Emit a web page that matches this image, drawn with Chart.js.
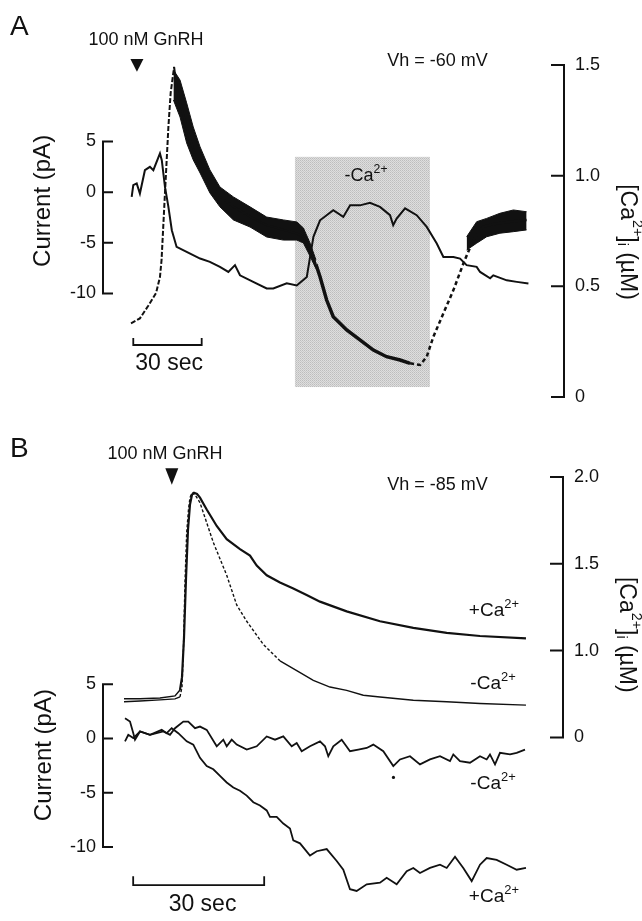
<!DOCTYPE html>
<html><head><meta charset="utf-8">
<script src="https://cdn.jsdelivr.net/npm/chart.js@4.4.1/dist/chart.umd.min.js"></script>
<style>
html,body{margin:0;padding:0;background:#fff;}
#wrap{position:relative;width:642px;height:921px;overflow:hidden;}
canvas{position:absolute;left:0;}
</style></head><body>
<div id="wrap">
<canvas id="cA" width="642" height="430" style="top:0;width:642px;height:430px"></canvas>
<canvas id="cB" width="642" height="491" style="top:430px;width:642px;height:491px"></canvas>
</div>
<script>
// ---------------- DATA (time in s, current in pA, [Ca2+]i in µM) ----------------
// Panel A
const timeA_I = [0.3,1.0,2.5,3.9,6.1,8.3,9.8,12.7,13.5,14.9,16.4,17.9,20.0,24.4,30.3,34.6,39.0,42.7,45.6,47.8,53.6,59.5,62.4,68.3,72.7,77.1,80.0,82.9,88.7,93.1,96.1,100.4,104.8,109.2,113.6,115.0,116.5,120.2,125.3,129.7,134.1,137.0,141.4,144.3,147.2,151.6,153.1,157.5,158.9,164.8,169.2,174.3];
const currentA = [-0.46,0.69,0.86,-0.13,2.17,2.5,2.17,3.82,3.16,0.53,-1.45,-3.75,-5.4,-5.9,-6.55,-6.88,-7.37,-7.87,-7.2,-8.2,-8.85,-9.5,-9.5,-9.0,-9.2,-8.36,-4.4,-2.77,-1.78,-2.44,-1.28,-1.3,-1.05,-1.45,-2.27,-3.26,-2.6,-1.6,-2.27,-3.43,-5.07,-6.4,-6.4,-6.55,-7.2,-7.37,-7.87,-8.5,-8.2,-8.7,-8.85,-9.0];
const timeA_Ca = [0.0,3.9,7.5,11.0,12.7,13.4,14.9,16.4,17.4,18.9,20.0,21.5,24.4,27.3,30.3,34.6,39.0,44.9,52.2,59.5,66.8,72.7,75.6,78.5,81.1,82.9,85.8,88.7,94.6,100.4,106.3,112.1,118.0,122.4,126.8,129.7,132.6,137.0,141.4,145.8,150.1,154.5,160.4,166.2,173.5];
const caA = [0.333,0.355,0.411,0.470,0.542,0.619,0.922,1.220,1.374,1.491,1.40,1.33,1.22,1.12,1.06,0.965,0.905,0.86,0.815,0.777,0.755,0.739,0.724,0.664,0.60,0.543,0.438,0.363,0.303,0.258,0.212,0.182,0.167,0.152,0.145,0.182,0.272,0.378,0.483,0.604,0.709,0.77,0.784,0.792,0.80];
// noise envelope of the Ca trace (upper / lower edge of the band)
const bandA1_t  = [18.6,21.5,24.4,27.3,30.3,34.6,39.0,44.9,52.2,59.5,66.8,72.7,75.6,78.5,81.1];
const bandA1_hi = [1.478,1.432,1.329,1.220,1.130,1.026,0.949,0.904,0.859,0.813,0.800,0.791,0.764,0.696,0.62];
const bandA1_lo = [1.342,1.265,1.148,1.071,1.012,0.922,0.859,0.800,0.768,0.723,0.709,0.709,0.696,0.637,0.58];
const bandA2_t  = [147.2,151.6,156.0,161.8,167.7,173.5];
const bandA2_hi = [0.724,0.792,0.807,0.830,0.845,0.837];
const bandA2_lo = [0.664,0.695,0.724,0.740,0.747,0.755];
const ticksA_I = [-10,-5,0,5];
const ticksA_Ca = [0,0.5,1,1.5];
const labelsA_I = ['-10','-5','0','5'];
const labelsA_Ca = ['0','0.5','1.0','1.5'];

// Panel B
const timeB_CaPlus = [0,3.66,8.24,11.68,12.82,13.28,13.74,14.20,14.66,15.11,15.57,16.03,16.72,17.40,18.94,21.23,23.52,26.56,28.85,30.39,32.68,35.72,38.77,41.82,44.88,50.99,58.62,66.25,73.90,81.52,92.05];
const caB_plus = [0.722,0.722,0.727,0.739,0.773,0.847,1.074,1.415,1.699,1.841,1.898,1.909,1.903,1.881,1.813,1.718,1.642,1.585,1.547,1.490,1.434,1.392,1.358,1.320,1.282,1.226,1.169,1.131,1.102,1.084,1.070];
const timeB_CaMinus = [0,3.66,8.24,11.68,12.82,13.28,13.62,13.97,14.36,14.77,15.11,15.57,16.26,17.40,20.45,23.52,25.81,28.10,31.90,35.72,39.55,43.35,47.17,50.99,54.80,58.62,66.25,73.90,81.52,92.05];
const caB_minus = [0.705,0.710,0.716,0.722,0.733,0.790,1.017,1.398,1.682,1.813,1.881,1.909,1.898,1.852,1.623,1.434,1.263,1.169,1.036,0.941,0.885,0.828,0.790,0.771,0.743,0.733,0.714,0.705,0.695,0.686];
const timeB_IMinus = [0.23,0.98,2.13,3.66,5.95,9.0,10.53,11.68,13.58,14.72,16.26,17.40,18.94,21.23,22.74,23.52,24.66,25.81,28.10,30.39,32.68,34.58,36.48,38.40,39.55,40.69,42.59,44.88,46.03,46.78,47.93,49.85,51.75,53.65,55.58,57.09,59.38,61.67,63.20,65.49,67.78,70.07,72.36,74.65,75.41,76.94,79.23,81.52,83.05,83.81,84.96,86.10,88.39,89.92,91.83];
const IB_minus = [-0.27,0.33,0.03,0.64,0.33,0.64,0.33,0.94,1.55,1.55,0.94,1.09,0.79,-0.73,-0.12,-0.73,-0.12,-0.57,-1.03,-0.73,0.18,-0.12,0.18,-0.73,-0.42,-1.18,-0.73,-0.27,-0.73,-1.64,-0.73,-0.12,-1.18,-1.03,-0.88,-0.57,-1.18,-2.55,-1.94,-1.64,-2.39,-1.94,-1.64,-2.09,-1.48,-2.09,-2.24,-1.64,-1.94,-1.48,-2.39,-1.33,-1.48,-1.33,-1.03];
const timeB_IPlus = [0.23,1.37,2.13,2.52,3.66,5.95,8.63,9.78,10.92,12.43,14.36,15.87,17.40,18.94,20.45,21.98,23.52,25.03,26.56,28.10,29.61,31.14,32.68,33.43,34.97,36.48,38.01,38.77,40.30,42.59,44.13,46.42,48.71,50.22,51.75,53.28,55.58,58.62,60.15,62.44,64.74,66.25,67.78,70.07,72.36,73.90,75.80,77.70,79.62,81.52,83.05,85.34,87.63,89.92,92.05];
const IB_plus = [1.85,1.55,0.48,-0.12,0.64,0.33,0.79,0.48,0.94,0.48,-0.27,-0.57,-1.79,-2.55,-2.85,-3.45,-4.06,-4.52,-4.82,-5.27,-5.88,-6.18,-6.64,-7.24,-7.24,-7.85,-8.3,-9.4,-9.67,-10.8,-10.4,-10.2,-11.3,-12.1,-13.9,-14.06,-13.45,-13.3,-12.85,-13.45,-12.24,-11.94,-12.4,-11.94,-11.64,-11.94,-10.9,-11.94,-13.15,-11.64,-11.03,-11.2,-11.64,-12.1,-11.94];
const strayB_t = [61.7];
const strayB_I = [-3.6];
const ticksB_I = [-10,-5,0,5];
const ticksB_Ca = [0.5,1,1.5,2];
const labelsB_I = ['-10','-5','0','5'];
const labelsB_Ca = ['0','1.0','1.5','2.0'];

// ---------------- RENDERING ----------------
const FONT = '"Liberation Sans", Arial, Helvetica, sans-serif';
const INK = '#111111';
const pts = (xs, ys) => xs.map((x, i) => ({x, y: ys[i]}));
const CA_SUP = [['-Ca',1,0],['2+',0.68,-0.42]];
const CA_SUP_P = [['+Ca',1,0],['2+',0.68,-0.42]];
const CA_TITLE = [['[Ca',1,0],['2+',0.62,-0.42],[']',1,0],['i',0.62,0.22],[' (µM)',1,0]];

function stipple(ctx){
  const c = document.createElement('canvas'); c.width = 2; c.height = 2;
  const g = c.getContext('2d');
  g.fillStyle = '#bdbdbd'; g.fillRect(0,0,1,1);
  g.fillStyle = '#dedede'; g.fillRect(1,0,1,1); g.fillRect(0,1,1,1);
  g.fillStyle = '#c9c9c9'; g.fillRect(1,1,1,1);
  return ctx.createPattern(c, 'repeat');
}
function richWidth(ctx, parts, size){
  let w = 0;
  for (const p of parts){ ctx.font = (size*p[1]) + 'px ' + FONT; w += ctx.measureText(p[0]).width; }
  return w;
}
function drawRich(ctx, parts, x, y, size, align){
  const w = richWidth(ctx, parts, size);
  let cx = align === 'center' ? x - w/2 : (align === 'right' ? x - w : x);
  ctx.textAlign = 'left';
  for (const p of parts){
    ctx.font = (size*p[1]) + 'px ' + FONT;
    ctx.fillText(p[0], cx, y + p[2]*size);
    cx += ctx.measureText(p[0]).width;
  }
}

function makeFig(cfg){
  return {
    id: 'fig' + cfg.name,
    beforeDatasetsDraw(chart){
      const ctx = chart.ctx, X = chart.scales.x;
      (cfg.boxes || []).forEach(b => {
        const Y = chart.scales[b.axis];
        const x0 = X.getPixelForValue(b.t0), x1 = X.getPixelForValue(b.t1);
        const y0 = Y.getPixelForValue(b.v1), y1 = Y.getPixelForValue(b.v0);
        ctx.save(); ctx.fillStyle = stipple(ctx); ctx.fillRect(x0, y0, x1-x0, y1-y0); ctx.restore();
      });
    },
    afterDraw(chart){
      const ctx = chart.ctx, X = chart.scales.x, A = chart.chartArea;
      ctx.save();
      ctx.strokeStyle = INK; ctx.fillStyle = INK; ctx.lineCap = 'square';
      // axes
      cfg.axes.forEach(ax => {
        const Y = chart.scales[ax.axis];
        const x = ax.side === 'left' ? A.left : A.right;
        ctx.lineWidth = 2;
        ctx.beginPath();
        ctx.moveTo(x, Y.getPixelForValue(ax.from)); ctx.lineTo(x, Y.getPixelForValue(ax.to));
        ax.ticks.forEach(v => { const y = Y.getPixelForValue(v); ctx.moveTo(x, y); ctx.lineTo(x + ax.dir*ax.len, y); });
        ctx.stroke();
      });
      // scale bar
      const sb = cfg.scaleBar, YS = chart.scales[sb.axis];
      const xa = X.getPixelForValue(sb.t0), xb = X.getPixelForValue(sb.t1);
      const yb = YS.getPixelForValue(sb.v), yt = YS.getPixelForValue(sb.vTick);
      ctx.lineWidth = 1.8; ctx.lineCap = 'butt';
      ctx.beginPath(); ctx.moveTo(xa, yt); ctx.lineTo(xa, yb); ctx.lineTo(xb, yb); ctx.lineTo(xb, yt); ctx.stroke();
      // arrow triangles
      (cfg.arrows || []).forEach(a => {
        const Y = chart.scales[a.axis];
        const x = X.getPixelForValue(a.t), y0 = Y.getPixelForValue(a.vTop), y1 = Y.getPixelForValue(a.vTip);
        ctx.beginPath(); ctx.moveTo(x - a.halfW, y0); ctx.lineTo(x + a.halfW, y0); ctx.lineTo(x, y1); ctx.closePath(); ctx.fill();
      });
      // texts
      cfg.texts.forEach(tx => {
        const Y = chart.scales[tx.axis];
        const x = X.getPixelForValue(tx.t), y = Y.getPixelForValue(tx.v);
        const parts = tx.parts || [[tx.text,1,0]];
        if (tx.rot){
          ctx.save(); ctx.translate(x, y); ctx.rotate(tx.rot*Math.PI/180);
          ctx.textBaseline = 'middle';
          drawRich(ctx, parts, 0, 0, tx.size, 'center');
          ctx.restore();
        } else {
          ctx.textBaseline = 'alphabetic';
          drawRich(ctx, parts, x, y, tx.size, tx.align || 'center');
        }
      });
      ctx.restore();
    }
  };
}

function yScale(pos, min, max, ticks, labels, width, pad){
  return {
    position: pos, min, max,
    afterBuildTicks: s => { s.ticks = ticks.map(v => ({value: v})); },
    afterFit: s => { s.width = width; },
    ticks: { callback: (v) => labels[ticks.indexOf(v)], color: INK, padding: pad, font: {family: FONT, size: 18}, autoSkip: false },
    grid: { display: false, drawTicks: false },
    border: { display: false }
  };
}
const baseOpts = (padTop, padBottom) => ({
  responsive: false, animation: false, devicePixelRatio: 1,
  layout: { padding: { top: padTop, bottom: padBottom, left: 0, right: 0 } },
  plugins: { legend: { display: false }, tooltip: { enabled: false } },
  elements: { point: { radius: 0 }, line: { tension: 0 } }
});

// ---------- Panel A ----------
const optsA = baseOpts(65, 33);
optsA.scales = {
  x: { type: 'linear', min: -12.28, max: 189.9, display: false },
  yI: yScale('left', -20.21, 12.55, ticksA_I, labelsA_I, 103, 7),
  yCa: yScale('right', 0, 1.5, ticksA_Ca, labelsA_Ca, 78, 11)
};
new Chart(document.getElementById('cA'), {
  type: 'line',
  data: { datasets: [
    { label: 'Current', data: pts(timeA_I, currentA), yAxisID: 'yI', borderColor: INK, borderWidth: 2, fill: false },
    { label: 'Ca', data: pts(timeA_Ca, caA), yAxisID: 'yCa', borderColor: INK, borderWidth: 2, fill: false,
      segment: {
        borderWidth: c => { const t = c.p0.parsed.x; return t < 80 ? 2 : (t < 121 ? 3.5 : 2.5); },
        borderDash: c => { const t = c.p0.parsed.x; return t < 18.9 ? [5,2] : ((t >= 121 && t < 147) ? [4,3] : []); }
      } },
    { label: 'band1 hi', data: pts(bandA1_t, bandA1_hi), yAxisID: 'yCa', borderColor: INK, borderWidth: 1, backgroundColor: INK, fill: '+1' },
    { label: 'band1 lo', data: pts(bandA1_t, bandA1_lo), yAxisID: 'yCa', borderColor: INK, borderWidth: 1, fill: false },
    { label: 'band2 hi', data: pts(bandA2_t, bandA2_hi), yAxisID: 'yCa', borderColor: INK, borderWidth: 1, backgroundColor: INK, fill: '+1' },
    { label: 'band2 lo', data: pts(bandA2_t, bandA2_lo), yAxisID: 'yCa', borderColor: INK, borderWidth: 1, fill: false }
  ]},
  options: optsA,
  plugins: [makeFig({
    name: 'A',
    boxes: [{ axis: 'yCa', t0: 71.9, t1: 131.1, v0: 0.045, v1: 1.085 }],
    axes: [
      { axis: 'yI', side: 'left', from: -10, to: 5, ticks: ticksA_I, dir: 1, len: 9 },
      { axis: 'yCa', side: 'right', from: 0, to: 1.5, ticks: ticksA_Ca, dir: -1, len: 12 }
    ],
    scaleBar: { axis: 'yCa', t0: 1, t1: 31, v: 0.235, vTick: 0.267 },
    arrows: [{ axis: 'yCa', t: 2.6, vTop: 1.527, vTip: 1.469, halfW: 6.5 }],
    texts: [
      { text: 'A', axis: 'yCa', t: -53.1, v: 1.636, size: 28, align: 'left' },
      { text: '100 nM GnRH', axis: 'yCa', t: 6.6, v: 1.591, size: 18 },
      { text: 'Vh = -60 mV', axis: 'yCa', t: 134.4, v: 1.496, size: 18 },
      { parts: CA_SUP, axis: 'yCa', t: 103.1, v: 0.978, size: 18 },
      { text: '30 sec', axis: 'yCa', t: 16.7, v: 0.122, size: 23 },
      { text: 'Current (pA)', axis: 'yCa', t: -38.6, v: 0.886, size: 24, rot: -90 },
      { parts: CA_TITLE, axis: 'yCa', t: 217.5, v: 0.70, size: 23, rot: 90 }
    ]
  })]
});

// ---------- Panel B ----------
const optsB = baseOpts(47, 16);
optsB.scales = {
  x: { type: 'linear', min: -4.81, max: 100.53, display: false },
  yI: yScale('left', -14.82, 24.09, ticksB_I, labelsB_I, 103, 7),
  yCa: yScale('right', -0.432, 2.0, ticksB_Ca, labelsB_Ca, 79, 11)
};
new Chart(document.getElementById('cB'), {
  type: 'line',
  data: { datasets: [
    { label: '+Ca2+ [Ca2+]i', data: pts(timeB_CaPlus, caB_plus), yAxisID: 'yCa', borderColor: INK, borderWidth: 2.2, fill: false,
      segment: { borderWidth: c => c.p0.parsed.x < 12.8 ? 1.5 : 2.2 } },
    { label: '-Ca2+ [Ca2+]i', data: pts(timeB_CaMinus, caB_minus), yAxisID: 'yCa', borderColor: INK, borderWidth: 1.4, fill: false,
      segment: { borderDash: c => { const t = c.p0.parsed.x; return (t > 12.8 && t < 33) ? [3,2] : []; } } },
    { label: '-Ca2+ current', data: pts(timeB_IMinus, IB_minus), yAxisID: 'yI', borderColor: INK, borderWidth: 1.8, fill: false },
    { label: '+Ca2+ current', data: pts(timeB_IPlus, IB_plus), yAxisID: 'yI', borderColor: INK, borderWidth: 1.8, fill: false },
    { label: 'artifact', data: pts(strayB_t, strayB_I), yAxisID: 'yI', showLine: false, pointRadius: 1.6, pointBackgroundColor: INK, pointBorderWidth: 0 }
  ]},
  options: optsB,
  plugins: [makeFig({
    name: 'B',
    axes: [
      { axis: 'yI', side: 'left', from: -10, to: 5, ticks: ticksB_I, dir: 1, len: 9 },
      { axis: 'yCa', side: 'right', from: 0.5, to: 2.0, ticks: ticksB_Ca, dir: -1, len: 12 }
    ],
    scaleBar: { axis: 'yCa', t0: 2.1, t1: 32.1, v: -0.351, vTick: -0.30 },
    arrows: [{ axis: 'yCa', t: 10.95, vTop: 2.051, vTip: 1.955, halfW: 6.5 }],
    texts: [
      { text: 'B', axis: 'yCa', t: -26.1, v: 2.114, size: 28, align: 'left' },
      { text: '100 nM GnRH', axis: 'yCa', t: 9.39, v: 2.105, size: 18 },
      { text: 'Vh = -85 mV', axis: 'yCa', t: 71.8, v: 1.926, size: 18 },
      { parts: CA_SUP_P, axis: 'yCa', t: 84.7, v: 1.199, size: 19 },
      { parts: CA_SUP, axis: 'yCa', t: 84.5, v: 0.780, size: 19 },
      { parts: CA_SUP, axis: 'yCa', t: 84.5, v: 0.205, size: 19 },
      { parts: CA_SUP_P, axis: 'yCa', t: 84.7, v: -0.449, size: 19 },
      { text: '30 sec', axis: 'yCa', t: 17.98, v: -0.5, size: 23 },
      { text: 'Current (pA)', axis: 'yCa', t: -18.3, v: 0.398, size: 24, rot: -90 },
      { parts: CA_TITLE, axis: 'yCa', t: 114.95, v: 1.091, size: 23, rot: 90 }
    ]
  })]
});
</script>
</body></html>
